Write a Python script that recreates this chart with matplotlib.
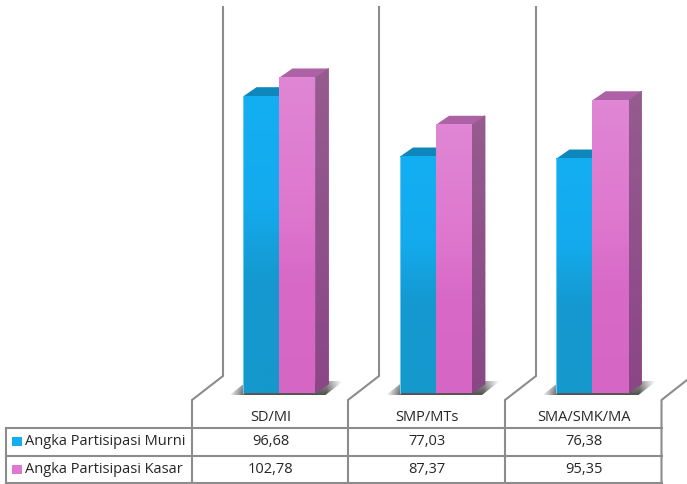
import numpy as np
import matplotlib
matplotlib.use('Agg')
import matplotlib.pyplot as plt
from matplotlib.colors import LinearSegmentedColormap, to_rgb
from matplotlib.patches import Polygon

categories = ['SD/MI', 'SMP/MTs', 'SMA/SMK/MA']
series_names = ['Angka Partisipasi Murni', 'Angka Partisipasi Kasar']
apm = [96.68, 77.03, 76.38]
apk = [102.78, 87.37, 95.35]

W, H = 687, 485
plt.rcParams['font.family'] = ['Open Sans', 'DejaVu Sans']
fig = plt.figure(figsize=(W / 100, H / 100), dpi=100)

# value axes: one category = 156.5 px, one unit = 3.07 px, baseline at y=394
ax = fig.add_axes([0, 0, 1, 1])
ax.axis('off')
xlim = (-279.5 / 156.5, (W - 279.5) / 156.5)
ylim = (-(H - 394) / 3.07, 394 / 3.07)

# pixel overlay for the wall and table lines
px = fig.add_axes([0, 0, 1, 1], zorder=3)
px.set_xlim(0, W)
px.set_ylim(H, 0)
px.axis('off')
px.patch.set_alpha(0)

bar_w = 36 / 156.5
dx = 13 / 156.5
dy = 9 / 3.07
line_col = '#8c8c8c'


def vgrad(stops):
    cm = LinearSegmentedColormap.from_list('g', stops)
    return cm(np.linspace(0, 1, 128))[:, None, :3]


def shadow(x0):
    # soft floor shadow behind each group
    a = np.linspace(0, 1, 120)
    b = np.linspace(0, 1, 24)[:, None]
    alpha = np.minimum(a / 0.14, (1 - a) / 0.14).clip(0, 1) * (0.6 + 0.4 * b) * 0.68
    img = np.zeros((24, 120, 4))
    img[..., 3] = alpha
    ext = (x0 - 50 / 156.5, x0 + 64 / 156.5, -2 / 3.07, 12 / 3.07)
    im = ax.imshow(img, extent=ext, aspect='auto', zorder=1, origin='upper')
    clip = Polygon([(x0 - 50 / 156.5, -2 / 3.07), (x0 + 46 / 156.5, -2 / 3.07),
                    (x0 + 64 / 156.5, 12 / 3.07), (x0 - 32 / 156.5, 12 / 3.07)],
                   transform=ax.transData)
    im.set_clip_path(clip)


def bar3d(x, v, front, top_col, side, edge=None):
    left, right = x - bar_w / 2, x + bar_w / 2
    ax.add_patch(Polygon([(left, v), (right, v), (right + dx, v + dy), (left + dx, v + dy)],
                         fc=top_col, ec='none', zorder=2))
    # side face in slices, it only shifts a little from top to bottom
    n = 24
    ts = np.linspace(0, 1, n + 1)
    c0, c1 = np.array(to_rgb(side[0])), np.array(to_rgb(side[1]))
    for k in range(n):
        lo, hi = v * (1 - ts[k + 1]), v * (1 - ts[k])
        c = c0 + (c1 - c0) * ts[k]
        ax.add_patch(Polygon([(right, lo), (right + dx, lo + dy), (right + dx, hi + dy), (right, hi)],
                             fc=c, ec=c, lw=0.6, zorder=2))
    ax.imshow(vgrad(front), extent=(left, right, 0, v), aspect='auto', zorder=2)
    if edge:
        ax.plot([left, left], [0, v], color=edge, lw=0.7, zorder=2.1)


for i in range(len(categories)):
    shadow(i)
    bar3d(i - bar_w / 2, apm[i], [(0, '#13AEF2'), (0.35, '#13ABEE'), (0.62, '#1599D0'), (1, '#1598CC')],
          '#0F86BC', ('#0F86BC', '#0F6F9E'), '#6CCBF3')
    bar3d(i + bar_w / 2, apk[i], [(0, '#E086D4'), (0.4, '#DE78CF'), (0.65, '#D869C7'), (1, '#D666C4')],
          '#AC62A5', ('#955A8E', '#8A4585'))

ax.set_xlim(*xlim)
ax.set_ylim(*ylim)

# walls
wall_x = [223, 379, 536]
for x in wall_x:
    px.plot([x, x, x - 31, x - 31], [8, 377, 401, 485], color=line_col, lw=1.5, solid_joinstyle='miter')
px.plot([687, 661.5, 661.5], [381, 401, 485], color=line_col, lw=1.5)

# table
for y in [428.5, 456.5]:
    px.plot([6, 661.5], [y, y], color=line_col, lw=1.5)
px.plot([6, 661.5], [484, 484], color=line_col, lw=1.5)
px.plot([6, 6], [428.5, 484], color=line_col, lw=1.5)

font = 10.5
col_x = [270.5, 427, 583.5]
for i, name in enumerate(categories):
    px.text(col_x[i], 418, name, ha='center', va='center', fontsize=font, color='#262626')
    px.text(col_x[i], 442, f'{apm[i]:.2f}'.replace('.', ','), ha='center', va='center', fontsize=font, color='#262626')
    px.text(col_x[i], 470, f'{apk[i]:.2f}'.replace('.', ','), ha='center', va='center', fontsize=font, color='#262626')

swatch = ['#14ADEF', '#DF78D0']
for y, name, c in zip([442, 470], series_names, swatch):
    px.add_patch(Polygon([(12, y - 4.5), (22, y - 4.5), (22, y + 4.5), (12, y + 4.5)], fc=c, ec='none'))
    px.text(25, y, name, ha='left', va='center', fontsize=font, color='#262626')

fig.savefig('out.png', dpi=100)
